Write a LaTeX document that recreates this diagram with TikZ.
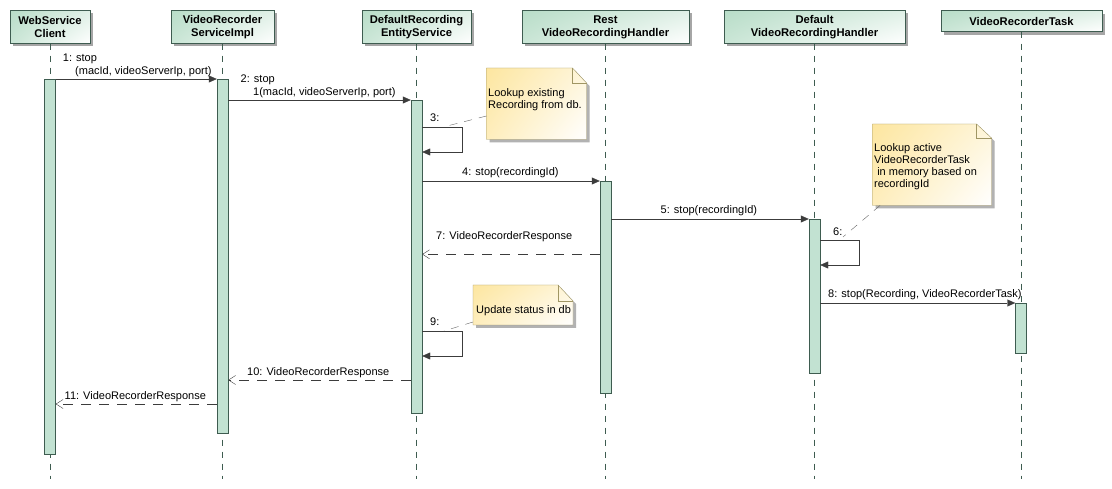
\documentclass[tikz,border=0pt]{standalone}
\usepackage{fontspec}
\setmainfont{Liberation Sans}
\usetikzlibrary{arrows.meta,shadows,shadings}
\definecolor{hdrgreen}{RGB}{184,221,200}
\definecolor{bargreen}{RGB}{194,226,210}
\definecolor{edgecol}{RGB}{62,92,80}
\definecolor{msgcol}{RGB}{60,60,60}
\definecolor{notefill}{RGB}{253,230,160}
\definecolor{noteedge}{RGB}{160,150,100}
\begin{document}
\begin{tikzpicture}[x=1pt,y=-1pt,
  txt/.style={font=\fontsize{11}{13}\selectfont, inner sep=0pt, anchor=base west, text=black},
  head/.style={draw=edgecol, upper left=hdrgreen, lower left=hdrgreen!75!white,
    upper right=hdrgreen!45!white, lower right=white,
    font=\fontsize{11.2}{12.7}\selectfont\bfseries, align=center, inner sep=0pt,
    drop shadow={shadow xshift=3pt, shadow yshift=-3pt, fill=black!35, opacity=1}},
  bar/.style={draw=edgecol, fill=bargreen, inner sep=0pt, minimum width=11pt, anchor=north},
  life/.style={draw=edgecol, dash pattern=on 6pt off 6pt},
  call/.style={draw=msgcol, -{Triangle[length=8pt,width=7pt]}},
  reply/.style={draw=msgcol, dash pattern=on 10pt off 8pt, -{Straight Barb[length=7pt,width=9pt]}},
  anchorline/.style={draw=black!60, dash pattern=on 8pt off 7pt},
  notebg/.style={upper left=notefill, lower left=notefill!70!white,
    upper right=notefill!40!white, lower right=white, draw=noteedge},
  noteshadow/.style={fill=black!30},
]
\useasboundingbox (0,0) rectangle (1112,489);
\fill[white] (0,0) rectangle (1112,489);

% headers
\node[head, minimum width=80pt, minimum height=33pt] (h1) at (50,27) {WebService\\Client};
\node[head, minimum width=103pt, minimum height=33pt] (h2) at (222.5,27) {VideoRecorder\\ServiceImpl};
\node[head, minimum width=109pt, minimum height=33pt] (h3) at (416.5,27) {DefaultRecording\\EntityService};
\node[head, minimum width=167pt, minimum height=33pt] (h4) at (605.5,27) {Rest\\VideoRecordingHandler};
\node[head, minimum width=181pt, minimum height=33pt] (h5) at (814.5,27) {Default\\VideoRecordingHandler};
\node[head, minimum width=161pt, minimum height=21pt] (h6) at (1021.5,21.2) {VideoRecorderTask};

\coordinate (lend) at (0,479);
\foreach \h in {h1,h2,h3,h4,h5} \draw[life] (\h.south) -- (\h.south |- lend);
\coordinate (h6l) at (1021,31.7);
\draw[life] (h6l) -- (h6l |- lend);

% activation bars
\node[bar, minimum height=375pt] (b1) at (50,79) {};
\node[bar, minimum height=354pt] (b2) at (222.5,79) {};
\node[bar, minimum height=313pt] (b3) at (416.5,100) {};
\node[bar, minimum height=212pt] (b4) at (605.5,181) {};
\node[bar, minimum height=154pt] (b5) at (814.5,219) {};
\node[bar, minimum height=50pt] (b6) at (1021,303) {};

% notes
\fill[noteshadow] (489.5,71) -- (575.5,71) -- (589.5,86) -- (589.5,142.5) -- (489.5,142.5) -- cycle;
\shade[notebg] (486.5,68) -- (572.5,68) -- (586.5,83) -- (586.5,139.5) -- (486.5,139.5) -- cycle;
\draw[noteedge] (572.5,68) -- (572.5,83) -- (586.5,83);
\node[txt] (n1a) at (488,96.5) {Lookup existing};
\node[txt] (n1b) at (488,108.5) {Recording from db.};

\fill[noteshadow] (875.5,127) -- (979.5,127) -- (994.5,141) -- (994.5,208.5) -- (875.5,208.5) -- cycle;
\shade[notebg] (872.5,124) -- (976.5,124) -- (991.5,138) -- (991.5,205.5) -- (872.5,205.5) -- cycle;
\draw[noteedge] (976.5,124) -- (976.5,138) -- (991.5,138);
\node[txt] (n2a) at (874,152) {Lookup active};
\node[txt] (n2b) at (874,164) {VideoRecorderTask};
\node[txt] (n2c) at (874,176) {\ in memory based on};
\node[txt] (n2d) at (874,188) {recordingId};

\fill[noteshadow] (476,288) -- (561,288) -- (576,304) -- (576,328) -- (476,328) -- cycle;
\shade[notebg] (473,285) -- (558,285) -- (573,301) -- (573,325) -- (473,325) -- cycle;
\draw[noteedge] (558,285) -- (558,301) -- (573,301);
\node[txt] (n3a) at (476,313) {Update status in db};

% note anchors
\coordinate (a1n) at (486.5,116); \coordinate (a1m) at (443,127);
\coordinate (a2n) at (880,205.5); \coordinate (a2m) at (843,237);
\coordinate (a3n) at (473,322);   \coordinate (a3m) at (444,331);
\draw[anchorline] (a1n) -- (a1m);
\draw[anchorline] (a2n) -- (a2m);
\draw[anchorline] (a3n) -- (a3m);

% messages
\draw[call] (b1.north east) -- (b2.north west);
\node[txt] (l1a) at (62.7,62) {1: stop};
\node[txt] (l1b) at (75,75) {(macId, videoServerIp, port)};

\draw[call] (b2.east |- b3.north) -- (b3.north west);
\node[txt] (l2a) at (240.5,83) {2: stop};
\node[txt] (l2b) at (253,96) {1(macId, videoServerIp, port)};

\coordinate (s3a) at (462,127); \coordinate (s3b) at (462,152);
\draw[call] (b3.east |- s3a) -- (s3a) -- (s3b) -- (b3.east |- s3b);
\node[txt] (l3) at (430,122) {3:};

\draw[call] (b3.east |- b4.north) -- (b4.north west);
\node[txt] (l4) at (462,175.5) {4: stop(recordingId)};

\draw[call] (b4.east |- b5.north) -- (b5.north west);
\node[txt] (l5) at (660.5,213.5) {5: stop(recordingId)};

\coordinate (s6a) at (859,240); \coordinate (s6b) at (859,265);
\draw[call] (b5.east |- s6a) -- (s6a) -- (s6b) -- (b5.east |- s6b);
\node[txt] (l6) at (833,236) {6:};

\coordinate (r7) at (0,254.3);
\draw[reply] (b4.west |- r7) -- (b3.east |- r7);
\node[txt] (l7) at (436,240) {7: VideoRecorderResponse};

\draw[call] (b5.east |- b6.north) -- (b6.north west);
\node[txt] (l8) at (828,297.5) {8: stop(Recording, VideoRecorderTask)};

\coordinate (s9a) at (462,331); \coordinate (s9b) at (462,356);
\draw[call] (b3.east |- s9a) -- (s9a) -- (s9b) -- (b3.east |- s9b);
\node[txt] (l9) at (430,326) {9:};

\coordinate (r10) at (0,380);
\draw[reply] (b3.west |- r10) -- (b2.east |- r10);
\node[txt] (l10) at (247,375) {10: VideoRecorderResponse};

\coordinate (r11) at (0,404);
\draw[reply] (b2.west |- r11) -- (b1.east |- r11);
\node[txt] (l11) at (64.5,399) {11: VideoRecorderResponse};
\end{tikzpicture}
\end{document}
